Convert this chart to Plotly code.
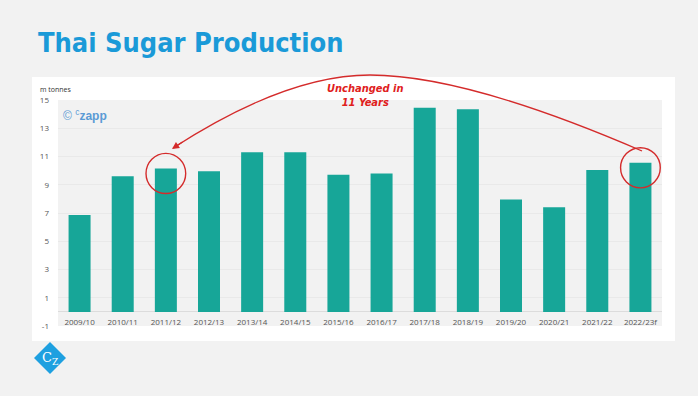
import plotly.graph_objects as go

seasons = ["2009/10", "2010/11", "2011/12", "2012/13", "2013/14", "2014/15", "2015/16",
           "2016/17", "2017/18", "2018/19", "2019/20", "2020/21", "2021/22", "2022/23f"]
production = [6.85, 9.6, 10.15, 9.95, 11.3, 11.3, 9.7, 9.8, 14.45, 14.35, 7.95, 7.4, 10.05, 10.55]
y_ticks = [-1, 1, 3, 5, 7, 9, 11, 13, 15]
y_tick_labels = ["-1", "1", "3", "5", "7", "9", "11", "13", "15"]
highlight = [2, 13]

W, H = 698, 396
L, R, T, B = 58, 662, 100, 326
Y0, Y1 = -1, 15


def px(x):
    return (x - L) / (R - L)


def py(y):
    return (B - y) / (B - T)


fig = go.Figure(go.Bar(x=seasons, y=production, marker_color="#17a698",
                       marker_line_width=0, hoverinfo="skip"))

shapes = [
    dict(type="rect", xref="paper", yref="paper", x0=px(32), x1=px(675), y0=py(341), y1=py(77),
         fillcolor="white", line_width=0, layer="below"),
    dict(type="rect", xref="paper", yref="paper", x0=0, x1=1, y0=0, y1=1,
         fillcolor="#f2f2f2", line_width=0, layer="below"),
]
for i in highlight:
    c = production[i] - 0.35
    shapes.append(dict(type="circle", xref="x", yref="y", x0=i - 0.46, x1=i + 0.46,
                       y0=c - 1.42, y1=c + 1.42, line=dict(color="#d42b2b", width=1.4)))

p = lambda x, y: f"{px(x):.5f},{py(y):.5f}"
path = f"M {p(642,151)} Q {p(466,75)} {p(370,75)} Q {p(286,75)} {p(173,148)}"
shapes.append(dict(type="path", xref="paper", yref="paper", path=path,
                   line=dict(color="#d42b2b", width=1.3)))

cx, cy, r = 50, 358, 16
shapes.append(dict(type="path", xref="paper", yref="paper",
                   path=f"M {p(cx, cy - r)} L {p(cx + r, cy)} L {p(cx, cy + r)} L {p(cx - r, cy)} Z",
                   fillcolor="#1ea0e0", line_width=0))

narrow = "Liberation Sans Narrow, DejaVu Sans Condensed, Roboto Condensed, Roboto, Arial"
annotations = [
    dict(text="<b>Thai Sugar Production</b>", xref="paper", yref="paper", x=px(36), y=py(43),
         xanchor="left", yanchor="middle", showarrow=False,
         font=dict(family=narrow, size=27, color="#1a9ad8")),
    dict(text="m tonnes", xref="paper", yref="paper", x=px(38), y=py(89),
         xanchor="left", yanchor="middle", showarrow=False,
         font=dict(family="Open Sans", size=7, color="#333333")),
    dict(text="© <sup>c</sup><b>zapp</b>", xref="paper", yref="paper", x=px(61), y=py(115),
         xanchor="left", yanchor="middle", showarrow=False,
         font=dict(family="Liberation Sans", size=12, color="#5b9bd5")),
    dict(text="<b><i>Unchanged in<br>11 Years</i></b>", xref="paper", yref="paper", x=px(365), y=py(95),
         xanchor="center", yanchor="middle", showarrow=False,
         font=dict(family=narrow, size=11, color="#e0201c")),
    dict(text="", xref="paper", yref="paper", x=px(172), y=py(149), ax=12, ay=-8,
         showarrow=True, arrowhead=2, arrowsize=1.1, arrowwidth=1.3, arrowcolor="#d42b2b"),
    dict(text="C<sub>Z</sub>", xref="paper", yref="paper", x=px(cx), y=py(cy),
         xanchor="center", yanchor="middle", showarrow=False,
         font=dict(family="DejaVu Serif", size=13, color="white")),
]

fig.update_layout(
    width=W, height=H,
    margin=dict(l=L, r=W - R, t=T, b=H - B, pad=0),
    paper_bgcolor="#f2f2f2", plot_bgcolor="rgba(0,0,0,0)",
    bargap=0.49, showlegend=False,
    shapes=shapes, annotations=annotations,
    xaxis=dict(type="category", showgrid=False, showline=False, ticks="",
               anchor="free", position=py(316),
               tickfont=dict(family="Open Sans", size=8, color="#555555")),
    yaxis=dict(range=[Y0, Y1], tickvals=y_ticks, ticktext=y_tick_labels,
               showgrid=True, gridcolor="#e9e9e9", gridwidth=1,
               zeroline=True, zerolinecolor="#dcdcdc", zerolinewidth=1, showline=False,
               ticks="", ticklabelstandoff=8,
               tickfont=dict(family="Open Sans", size=8, color="#555555")),
)

fig.write_html("out.html", post_script="document.body.style.margin='0';",
               config={"displayModeBar": False})
